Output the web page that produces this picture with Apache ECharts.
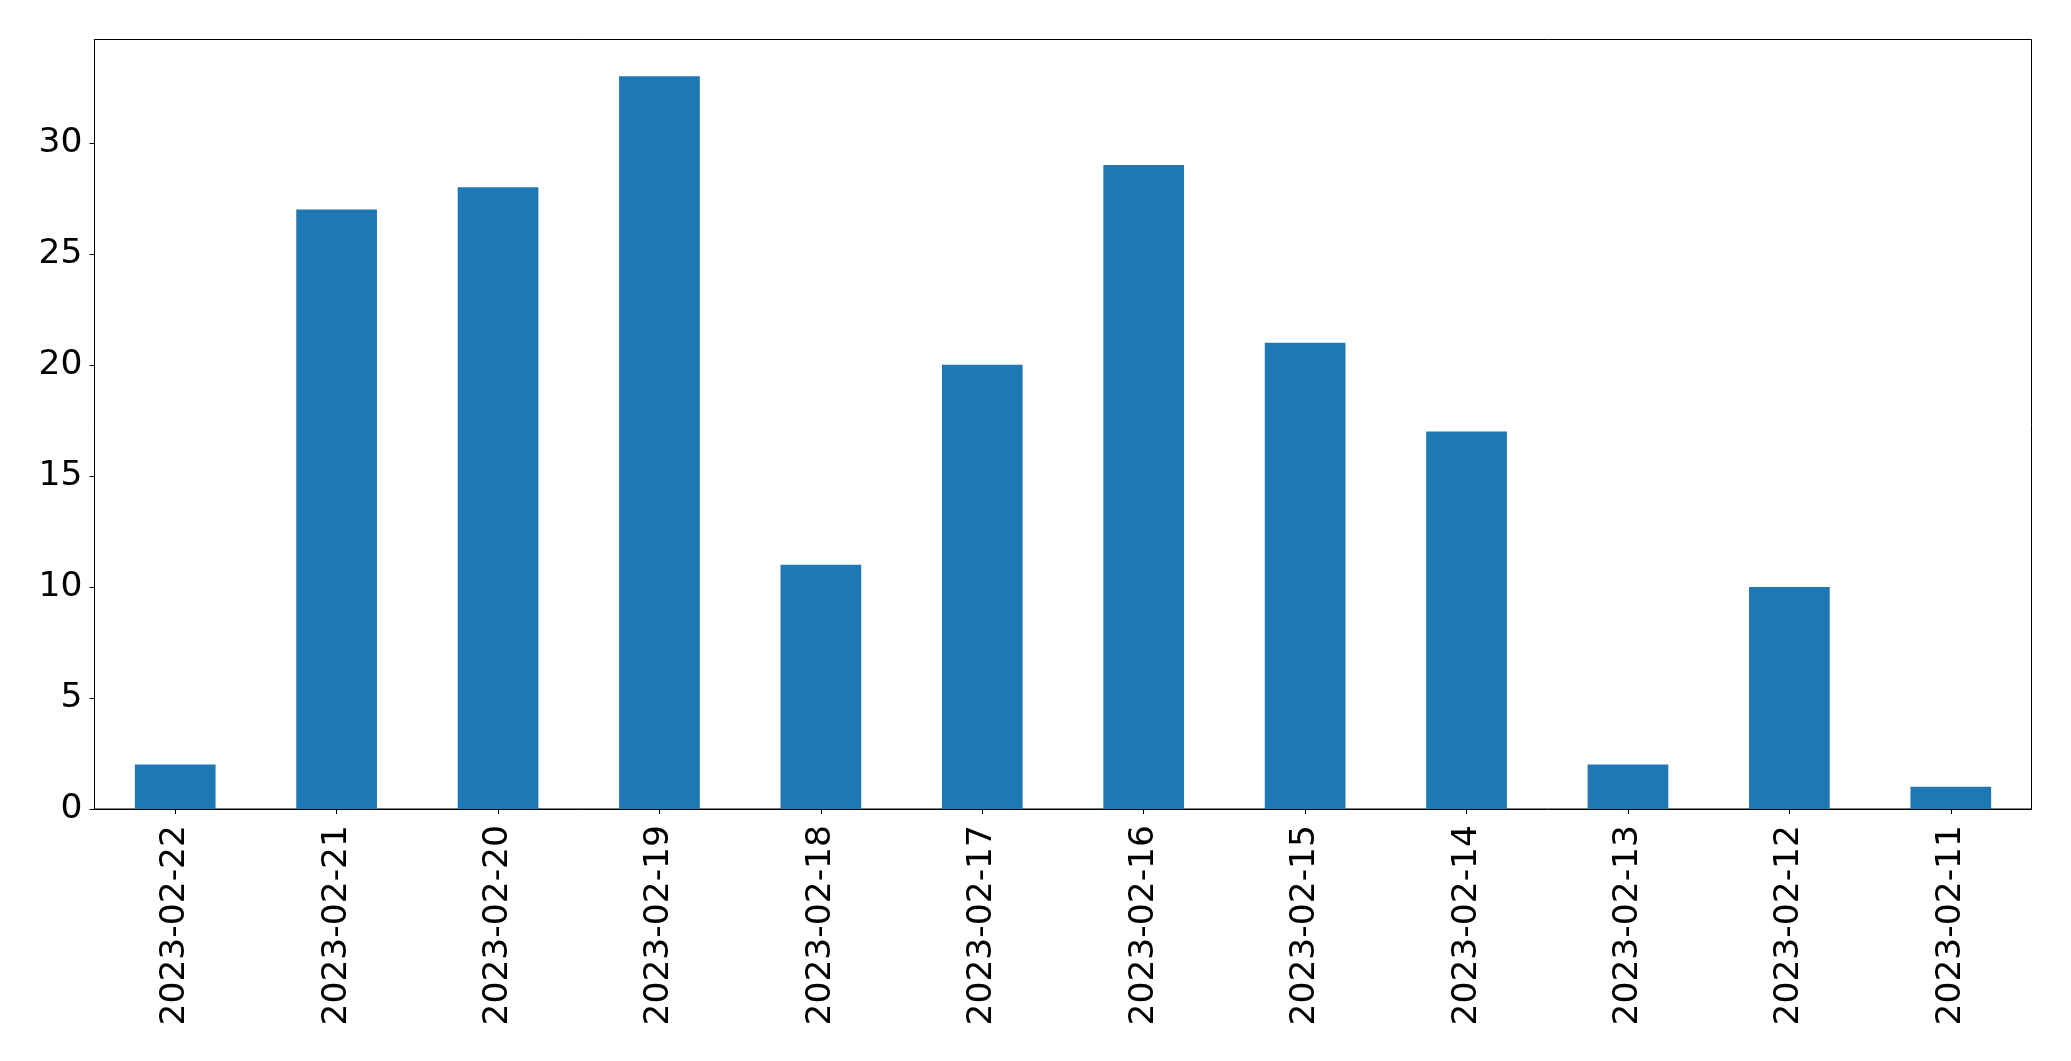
<!DOCTYPE html>
<html>
<head>
<meta charset="utf-8">
<script src="https://cdn.jsdelivr.net/npm/echarts@6/dist/echarts.min.js"></script>
<style>
html,body{margin:0;padding:0;background:#fff;}
#chart{width:2071px;height:1061px;}
</style>
</head>
<body>
<div id="chart"></div>
<script>
const categories = ["2023-02-22","2023-02-21","2023-02-20","2023-02-19","2023-02-18","2023-02-17","2023-02-16","2023-02-15","2023-02-14","2023-02-13","2023-02-12","2023-02-11"];
const values = [2,27,28,33,11,20,29,21,17,2,10,1];
const yTicks = [0,5,10,15,20,25,30];

const chart = echarts.init(document.getElementById('chart'), null, {renderer:'canvas'});
const font = "DejaVu Sans";
chart.setOption({
  animation:false,
  backgroundColor:'#fff',
  grid:{left:94.5, top:39.5, right:39.5, bottom:252, show:true, borderColor:'#000', borderWidth:1, backgroundColor:'transparent'},
  xAxis:{
    type:'category',
    data:categories,
    boundaryGap:true,
    axisLine:{show:true, lineStyle:{color:'#000', width:1}},
    axisTick:{show:true, alignWithLabel:true, length:5, lineStyle:{color:'#000', width:1}},
    axisLabel:{rotate:90, color:'#000', fontFamily:font, fontSize:34.5, margin:16, interval:0}
  },
  yAxis:{
    type:'value',
    min:0, max:34.65, interval:5,
    splitLine:{show:false},
    axisLine:{show:true, lineStyle:{color:'#000', width:1}},
    axisTick:{show:true, length:5, lineStyle:{color:'#000', width:1}, customValues:yTicks},
    axisLabel:{color:'#000', fontFamily:font, fontSize:34.5, margin:12, customValues:yTicks}
  },
  series:[{
    type:'bar',
    data:values,
    barWidth:'50%',
    itemStyle:{color:'#1f77b4'}
  }]
});
</script>
</body>
</html>
